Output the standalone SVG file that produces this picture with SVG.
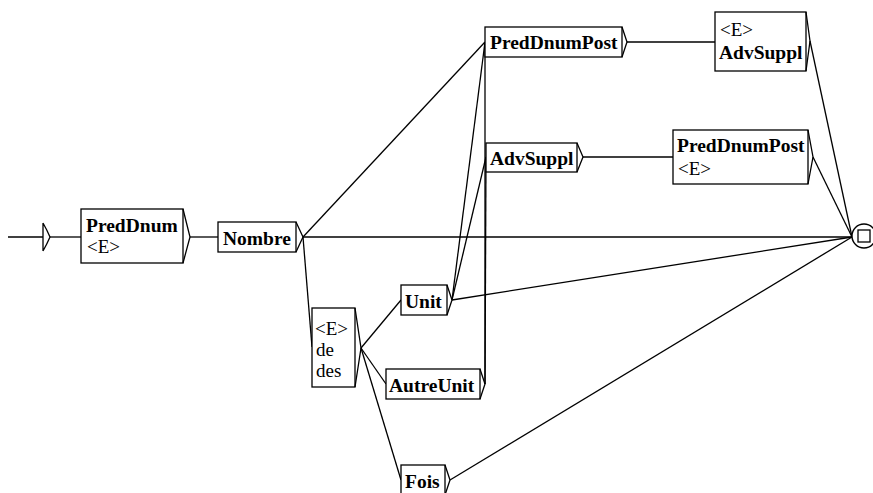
<svg xmlns="http://www.w3.org/2000/svg" width="873" height="493" viewBox="0 0 873 493">
<style>
.bx{fill:#fff;stroke:#000;stroke-width:1.3}
.ch{fill:none;stroke:#000;stroke-width:1.3}
.ln{fill:none;stroke:#000;stroke-width:1.3}
.g{font-family:"Liberation Serif","Times New Roman",serif;font-size:19.5px;font-weight:bold;fill:#000}
.t{font-family:"Liberation Serif","Times New Roman",serif;font-size:19px;fill:#000}
</style>
<rect width="873" height="493" fill="#fff"/>
<g id="connectors">
<line class="ln" x1="8" y1="237" x2="43" y2="237"/>
<line class="ln" x1="50" y1="237" x2="81" y2="237"/>
<line class="ln" x1="190" y1="237" x2="218" y2="237"/>
<line class="ln" x1="303" y1="237" x2="485" y2="42"/>
<line class="ln" x1="303" y1="237" x2="312" y2="347"/>
<line class="ln" x1="303" y1="237" x2="852" y2="237"/>
<line class="ln" x1="361" y1="348" x2="401" y2="300"/>
<line class="ln" x1="361" y1="348" x2="386" y2="384"/>
<line class="ln" x1="361" y1="348" x2="401" y2="480"/>
<line class="ln" x1="452" y1="300" x2="485" y2="42"/>
<line class="ln" x1="452" y1="300" x2="486" y2="157"/>
<line class="ln" x1="452" y1="300" x2="852" y2="237"/>
<line class="ln" x1="485" y1="384" x2="485" y2="42"/>
<line class="ln" x1="485" y1="384" x2="486" y2="157"/>
<line class="ln" x1="450" y1="480" x2="852" y2="237"/>
<line class="ln" x1="627" y1="42" x2="715" y2="42"/>
<line class="ln" x1="810" y1="41" x2="852" y2="237"/>
<line class="ln" x1="583" y1="157" x2="673" y2="157"/>
<line class="ln" x1="813" y1="157" x2="852" y2="237"/>
</g>
<g id="initial">
<path class="ch" d="M43,223 L43,251 M43,223 Q47,230 50,237 Q47,244 43,251"/>
</g>
<g id="n-preddnum">
<rect class="bx" x="81" y="209" width="102" height="54"/>
<path class="ch" d="M183,209 L190,237 L183,263"/>
<text class="g" x="86" y="232">PredDnum</text>
<text class="t" x="87" y="253">&lt;E&gt;</text>
</g>
<g id="n-nombre">
<rect class="bx" x="218" y="222" width="78" height="30"/>
<path class="ch" d="M296,222 L303,237 L296,252"/>
<text class="g" x="223" y="245">Nombre</text>
</g>
<g id="n-dedes">
<rect class="bx" x="312" y="308" width="43" height="79"/>
<path class="ch" d="M355,308 L361,348 L355,387"/>
<text class="t" x="315" y="335">&lt;E&gt;</text>
<text class="t" x="316" y="356">de</text>
<text class="t" x="316" y="377">des</text>
</g>
<g id="n-unit">
<rect class="bx" x="401" y="285" width="46" height="30"/>
<path class="ch" d="M447,285 L452,300 L447,315"/>
<text class="g" x="405" y="308">Unit</text>
</g>
<g id="n-autreunit">
<rect class="bx" x="386" y="369" width="94" height="30"/>
<path class="ch" d="M480,369 L485,384 L480,399"/>
<text class="g" x="389" y="392">AutreUnit</text>
</g>
<g id="n-fois">
<rect class="bx" x="401" y="465" width="44" height="31"/>
<path class="ch" d="M445,465 L450,480 L445,495"/>
<text class="g" x="405" y="488">Fois</text>
</g>
<g id="n-preddnumpost1">
<rect class="bx" x="485" y="27" width="137" height="30"/>
<path class="ch" d="M622,27 L627,42 L622,57"/>
<text class="g" x="490" y="49">PredDnumPost</text>
</g>
<g id="n-advsuppl1">
<rect class="bx" x="486" y="143" width="91" height="29"/>
<path class="ch" d="M577,143 L583,157 L577,172"/>
<text class="g" x="490" y="165">AdvSuppl</text>
</g>
<g id="n-advsuppl2">
<rect class="bx" x="715" y="12" width="91" height="59"/>
<path class="ch" d="M806,12 L810,41 L806,71"/>
<text class="t" x="720" y="36">&lt;E&gt;</text>
<text class="g" x="719" y="59">AdvSuppl</text>
</g>
<g id="n-preddnumpost2">
<rect class="bx" x="673" y="130" width="135" height="54"/>
<path class="ch" d="M808,130 L813,157 L808,184"/>
<text class="g" x="677" y="152">PredDnumPost</text>
<text class="t" x="678" y="175">&lt;E&gt;</text>
</g>
<g id="final">
<circle cx="864" cy="236" r="12" fill="#fff" stroke="#000" stroke-width="1.4"/>
<rect x="858" y="230" width="12" height="12" fill="none" stroke="#000" stroke-width="1.3"/>
</g>
</svg>
